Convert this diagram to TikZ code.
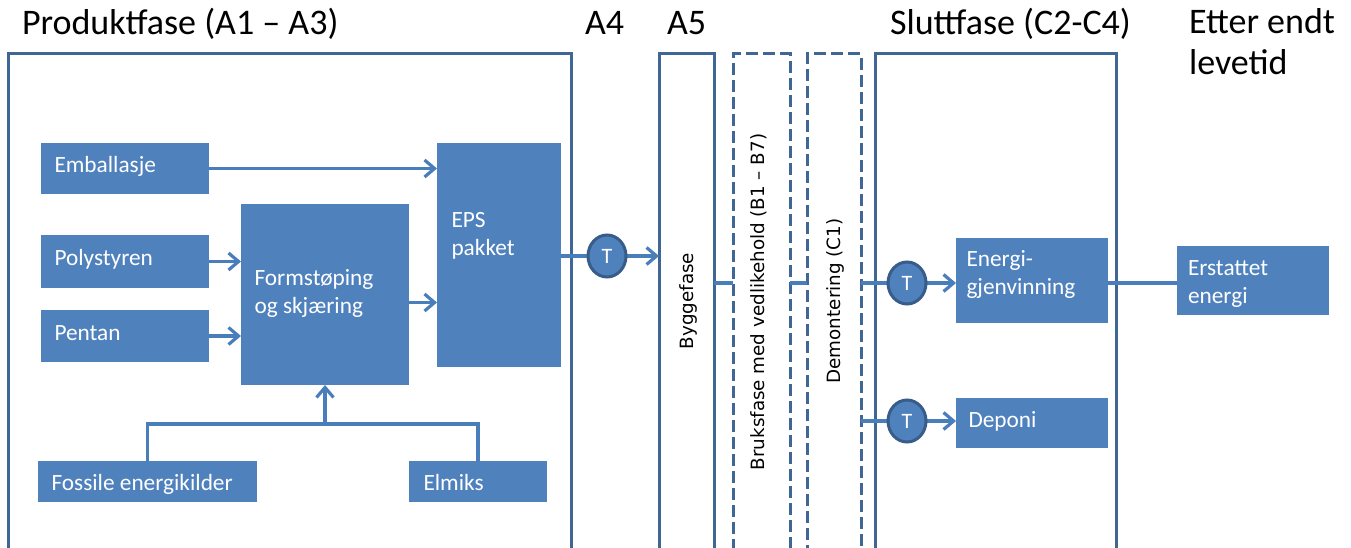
\documentclass[tikz,border=0pt]{standalone}
\usepackage{fontspec}
\setmainfont{Carlito}
\newfontfamily\rotfont{DejaVu Sans}
\usetikzlibrary{arrows.meta,shapes.geometric}
\definecolor{boxfill}{HTML}{4F81BD}
\definecolor{frameblue}{HTML}{3F6695}
\definecolor{lineblue}{HTML}{4A7EBB}
\definecolor{tborder}{HTML}{385D8A}
\tikzset{
  every node/.style={outer sep=0pt},
  box/.style={fill=boxfill, draw=none, inner sep=0pt, anchor=north west},
  boxtxt/.style={text=white, font=\fontsize{23.3}{28}\selectfont, align=left, inner sep=0pt, anchor=base west},
  frame/.style={draw=frameblue, line width=3pt, minimum height=540pt, anchor=north west, inner sep=0pt},
  dframe/.style={frame, dash pattern=on 12pt off 5pt},
  rottext/.style={font=\rotfont\fontsize{18.3}{22}\selectfont, rotate=90, inner sep=0pt},
  title/.style={font=\fontsize{36}{41}\selectfont, anchor=base west, inner sep=0pt, align=left},
  tnode/.style={ellipse, draw=tborder, fill=boxfill, line width=3pt, minimum width=38pt,
    minimum height=42pt, inner sep=0pt, text=white, font=\fontsize{22}{26}\selectfont},
  conn/.style={draw=lineblue, line width=3.2pt},
  arr/.style={conn, -{Straight Barb[length=10pt,width=17pt,line width=3.2pt]}}
}
\begin{document}
\begin{tikzpicture}[x=1pt,y=-1pt]
\useasboundingbox (0,0) rectangle (1351,548);
% titles
\node[title] (t-prod) at (22,35) {Produktfase (A1 – A3)};
\node[title] (t-a4) at (585,35) {A4};
\node[title] (t-a5) at (667,35) {A5};
\node[title] (t-slutt) at (890,35) {Sluttfase (C2-C4)};
\node[title] (t-etter) at (1189,75) {Etter endt\\levetid};
% frames
\node[frame, minimum width=563pt] (prod) at (8,54) {};
\node[frame, minimum width=55pt] (a5) at (659,54) {};
\node[dframe, minimum width=57pt] (bruk) at (733,54) {};
\node[dframe, minimum width=54pt] (demo) at (807,54) {};
\node[frame, minimum width=241pt] (slutt) at (875,54) {};
\node[rottext] (bygtxt) at (688,301) {Byggefase};
\node[rottext] (bruktxt) at (759,302) {Bruksfase med vedlikehold (B1 – B7)};
\node[rottext] (demotxt) at (835,301) {Demontering (C1)};
% boxes
\node[box, minimum width=168pt, minimum height=51pt] (emb) at (41,143) {};
\node[box, minimum width=168pt, minimum height=53pt] (pol) at (41,235) {};
\node[box, minimum width=168pt, minimum height=52pt] (pen) at (41,310) {};
\node[box, minimum width=168pt, minimum height=181pt] (form) at (241,204) {};
\node[box, minimum width=124pt, minimum height=224pt] (eps) at (437,143) {};
\node[box, minimum width=219pt, minimum height=41pt] (fos) at (38,461) {};
\node[box, minimum width=138pt, minimum height=41pt] (elm) at (409,461) {};
\node[box, minimum width=152pt, minimum height=85pt] (ener) at (956,238) {};
\node[box, minimum width=152pt, minimum height=50pt] (dep) at (956,398) {};
\node[box, minimum width=152pt, minimum height=69pt] (ers) at (1177,246) {};
% box texts (anchored at baseline of last line)
\node[boxtxt] (embtxt) at (54.5,173) {Emballasje};
\node[boxtxt] (poltxt) at (54.5,265) {Polystyren};
\node[boxtxt] (pentxt) at (54.5,340) {Pentan};
\node[boxtxt] (formtxt) at (254.5,313) {Formstøping\\og skjæring};
\node[boxtxt] (epstxt) at (451.5,255) {EPS\\pakket};
\node[boxtxt] (fostxt) at (51.5,490) {Fossile energikilder};
\node[boxtxt] (elmtxt) at (423.5,490) {Elmiks};
\node[boxtxt] (enertxt) at (966.5,294) {Energi-\\gjenvinning};
\node[boxtxt] (deptxt) at (968.5,427) {Deponi};
\node[boxtxt] (erstxt) at (1188,303) {Erstattet\\energi};
% transport node positions
\coordinate (t1) at (607,256);
\coordinate (t2) at (907,283);
\coordinate (t3) at (907,421);
% connectors
\draw[arr] (emb.east) -- (emb.east -| eps.west);
\draw[arr] (pol.east) -- (pol.east -| form.west);
\draw[arr] (pen.east) -- (pen.east -| form.west);
\coordinate (fo) at ([yshift=-8pt]form.east);
\draw[arr] (fo) -- (fo -| eps.west);
\coordinate (jn) at (325,424);
\draw[conn] (fos.north) |- (jn) -| (elm.north);
\draw[arr] (form.south |- jn) -- (form.south);
\draw[conn] (t1 -| eps.east) -- (t1);
\draw[arr] (t1) -- (t1 -| a5.west);
\draw[conn] (t2 -| a5.east) -- (t2 -| bruk.west);
\draw[conn] (t2 -| bruk.east) -- (t2 -| demo.west);
\draw[conn] (t2 -| demo.east) -- (t2);
\draw[arr] (t2) -- (t2 -| ener.west);
\draw[conn] (t3 -| demo.east) -- (t3);
\draw[arr] (t3) -- (t3 -| dep.west);
\draw[conn] (ener.east |- t2) -- (ers.west |- t2);
\node[tnode] (tn1) at (t1) {T};
\node[tnode] (tn2) at (t2) {T};
\node[tnode] (tn3) at (t3) {T};
\end{tikzpicture}
\end{document}
